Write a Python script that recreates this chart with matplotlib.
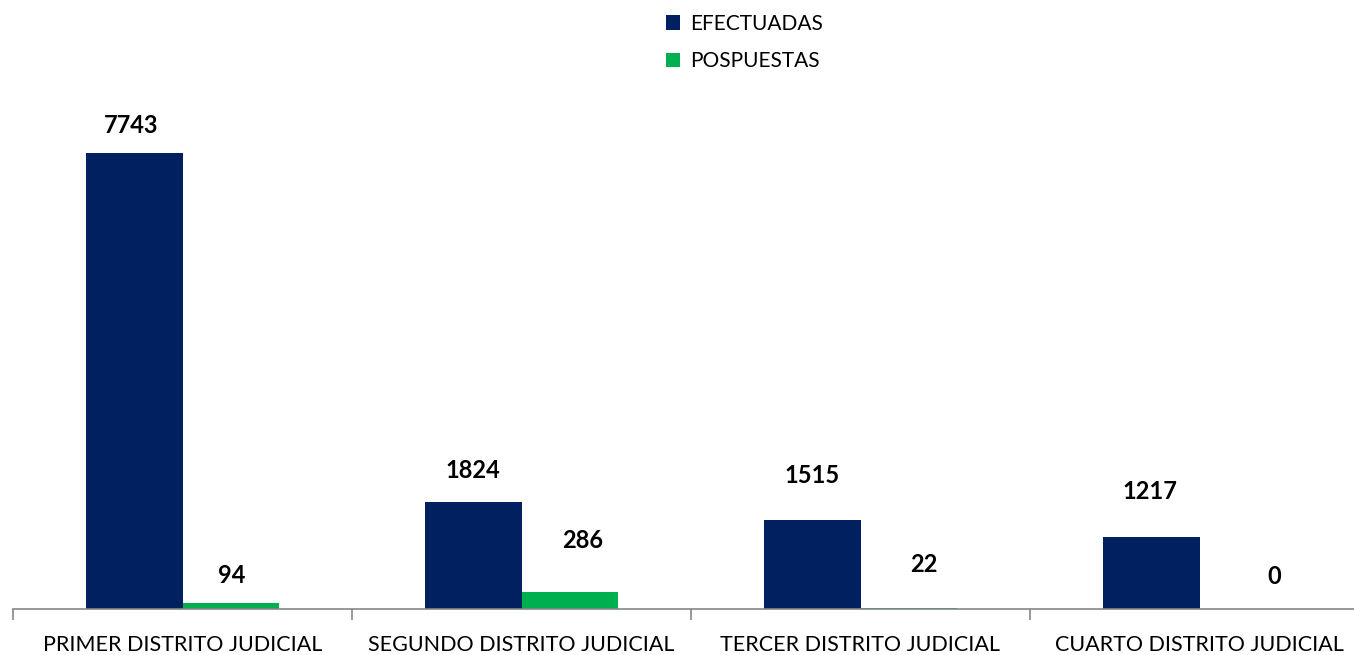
import matplotlib.pyplot as plt
import numpy as np

plt.rcParams['font.family'] = ['Lato', 'DejaVu Sans']

# data
distritos = ['PRIMER DISTRITO JUDICIAL', 'SEGUNDO DISTRITO JUDICIAL',
             'TERCER DISTRITO JUDICIAL', 'CUARTO DISTRITO JUDICIAL']
efectuadas = [7743, 1824, 1515, 1217]
pospuestas = [94, 286, 22, 0]

# label offsets from bar top centre (pixels), as Excel placed them
off_efec = [(-3, 28), (0, 31), (0, 44), (-1, 46)]
off_posp = [(1, 28), (13, 52), (15, 43), (26, 32)]

navy = '#002060'
green = '#00B050'

fig = plt.figure(figsize=(13.54, 6.55), dpi=100)
ax = fig.add_axes([13 / 1354, 46 / 655, 1356 / 1354, 530 / 655])

x = np.arange(len(distritos))
w = 0.286
b1 = ax.bar(x - w / 2, efectuadas, w, color=navy, label='EFECTUADAS')
b2 = ax.bar(x + w / 2, pospuestas, w, color=green, label='POSPUESTAS')

for bars, vals, offs in ((b1, efectuadas, off_efec), (b2, pospuestas, off_posp)):
    for r, v, o in zip(bars, vals, offs):
        ax.annotate(str(v), (r.get_x() + r.get_width() / 2, v),
                    xytext=o, textcoords='offset pixels',
                    ha='center', va='center', fontsize=17, fontweight='bold')

ax.set_xlim(-0.5, 3.5)
ax.set_ylim(0, 9000)
ax.set_yticks([])
for s in ['top', 'right', 'left']:
    ax.spines[s].set_visible(False)
ax.spines['bottom'].set_color('#868686')
ax.spines['bottom'].set_linewidth(1.2)

# ticks between categories
ax.set_xticks(x - 0.5, minor=True)
ax.tick_params(axis='x', which='minor', length=8, color='#868686', width=1.2)
ax.set_xticks(x)
ax.set_xticklabels(distritos, fontsize=15.5)
ax.tick_params(axis='x', which='major', length=0, pad=19)

fig.legend(handles=[b1, b2], loc='upper left', bbox_to_anchor=(647 / 1354, 1.008),
           frameon=False, fontsize=15, handlelength=0.7, handleheight=0.7,
           handletextpad=0.45, labelspacing=0.85)

fig.savefig('out.png', dpi=100)
